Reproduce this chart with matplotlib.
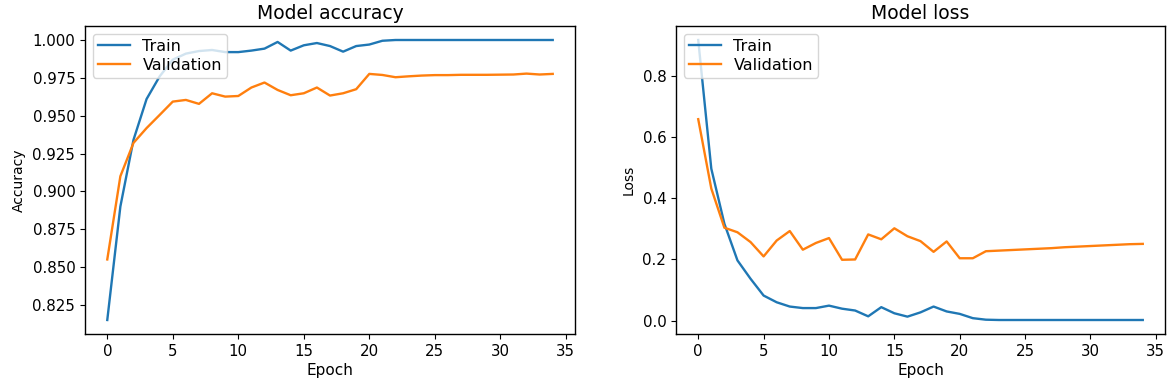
import matplotlib
matplotlib.use("Agg")
import matplotlib.pyplot as plt

epochs = list(range(35))

train_acc = [0.815, 0.890, 0.934, 0.961, 0.976, 0.987, 0.991, 0.9927, 0.9934, 0.992,
             0.992, 0.993, 0.9943, 0.9987, 0.993, 0.9965, 0.998, 0.996, 0.9923, 0.996,
             0.997, 0.9995, 1.0, 1.0, 1.0, 1.0, 1.0, 1.0, 1.0, 1.0,
             1.0, 1.0, 1.0, 1.0, 1.0]
val_acc = [0.855, 0.910, 0.932, 0.9418, 0.9505, 0.9593, 0.9604, 0.9578, 0.9648, 0.9626,
           0.963, 0.9686, 0.9719, 0.967, 0.9635, 0.9648, 0.9686, 0.9633, 0.9648, 0.9675,
           0.9776, 0.9769, 0.9754, 0.976, 0.9765, 0.9768, 0.9768, 0.977, 0.977, 0.977,
           0.9771, 0.9772, 0.9778, 0.9772, 0.9776]

train_loss = [0.918, 0.497, 0.317, 0.197, 0.137, 0.082, 0.060, 0.046, 0.041, 0.041,
              0.049, 0.039, 0.033, 0.014, 0.044, 0.024, 0.013, 0.027, 0.046, 0.030,
              0.022, 0.008, 0.003, 0.002, 0.002, 0.002, 0.002, 0.002, 0.002, 0.002,
              0.002, 0.002, 0.002, 0.002, 0.002]
val_loss = [0.659, 0.432, 0.304, 0.289, 0.257, 0.210, 0.262, 0.293, 0.232, 0.254,
            0.270, 0.199, 0.200, 0.282, 0.266, 0.302, 0.276, 0.260, 0.225, 0.259,
            0.204, 0.204, 0.227, 0.229, 0.231, 0.233, 0.235, 0.237, 0.240, 0.242,
            0.244, 0.246, 0.248, 0.250, 0.251]

fig = plt.figure(figsize=(11.7, 3.82), dpi=100)
ax1 = fig.add_axes([85/1170, 1-334/382, 490/1170, 308/382])
ax2 = fig.add_axes([676/1170, 1-334/382, 489/1170, 308/382])

for ax, tr, va, title, ylab in [(ax1, train_acc, val_acc, "Model accuracy", "Accuracy"),
                                (ax2, train_loss, val_loss, "Model loss", "Loss")]:
    ax.plot(epochs, tr, label="Train", lw=1.7)
    ax.plot(epochs, va, label="Validation", lw=1.7)
    ax.set_title(title, fontsize=13.5, pad=5)
    ax.set_xlabel("Epoch", fontsize=11, labelpad=3)
    ax.set_ylabel(ylab, fontsize=10, labelpad=5)
    ax.legend(loc="upper left", fontsize=11.5, labelspacing=0.25, borderpad=0.3,
              handlelength=2.0)
    ax.tick_params(labelsize=10.8)
    for s in ax.spines.values():
        s.set_linewidth(1.0)

fig.savefig("out.png", dpi=100)
